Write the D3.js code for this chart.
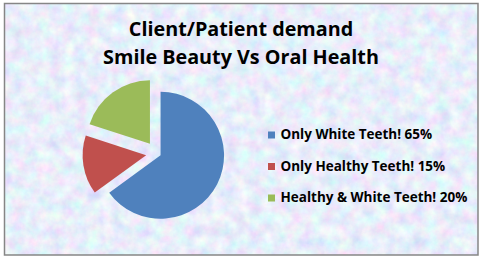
<!DOCTYPE html>
<html>
<head>
<meta charset="utf-8">
<script src="https://cdn.jsdelivr.net/npm/d3@7"></script>
<style>
  body { margin: 0; background: #fff; }
  svg { display: block; }
</style>
</head>
<body>
<div id="viz"></div>
<script>
// chart data
const titleLines = ["Client/Patient demand", "Smile Beauty Vs Oral Health"];
const categories = ["Only White Teeth!", "Only Healthy Teeth!", "Healthy & White Teeth!"];
const values = [65, 15, 20];
const colors = ["#4f81bd", "#c0504d", "#9bbb59"];

const width = 482, height = 258;
const cx = 157, cy = 153.5, radius = 63.5;
const explode = [4, 11, 12]; // px each slice is pulled out
const fontFamily = "'Open Sans', 'Noto Sans', sans-serif";

const svg = d3.select("#viz")
  .append("svg")
    .attr("width", width)
    .attr("height", height);

// tissue paper background
const defs = svg.append("defs");
const f = defs.append("filter")
  .attr("id", "paper")
  .attr("x", 0).attr("y", 0).attr("width", "100%").attr("height", "100%");
f.append("feTurbulence")
  .attr("type", "fractalNoise")
  .attr("baseFrequency", 0.08)
  .attr("numOctaves", 4)
  .attr("seed", 7)
  .attr("result", "noise");
f.append("feColorMatrix")
  .attr("in", "noise")
  .attr("type", "matrix")
  .attr("values",
    "0.5 0 0 0 0.56 " +
    "0 0.45 0 0 0.63 " +
    "0 0 0.15 0 0.88 " +
    "0 0 0 0 1");

svg.append("rect")
  .attr("x", 4).attr("y", 3)
  .attr("width", 474).attr("height", 252)
  .attr("filter", "url(#paper)");

svg.append("rect")
  .attr("x", 4.5).attr("y", 3.5)
  .attr("width", 473.5).attr("height", 251.5)
  .attr("fill", "none")
  .attr("stroke", "#868686")
  .attr("stroke-width", 1.5);

// shrink/grow font so a line gets a given width
function fitFont(sel, base, target) {
  sel.style("font-size", base + "px");
  const w = sel.node().getComputedTextLength();
  sel.style("font-size", (base * target / w) + "px");
}

// title
const title = svg.append("g")
  .selectAll("text")
  .data(titleLines)
  .enter()
  .append("text")
    .attr("x", 241)
    .attr("y", (d, i) => 36 + i * 28)
    .attr("text-anchor", "middle")
    .style("font-family", fontFamily)
    .style("font-weight", "bold")
    .style("fill", "#000")
    .text(d => d);
fitFont(title.filter((d, i) => i === 1), 19, 276);
title.style("font-size", title.filter((d, i) => i === 1).style("font-size"));

// pie
const pie = d3.pie().sort(null).value(d => d)(values);
const arc = d3.arc().innerRadius(0).outerRadius(radius);

svg.append("g")
  .attr("transform", `translate(${cx},${cy})`)
  .selectAll("path")
  .data(pie)
  .enter()
  .append("path")
    .attr("d", arc)
    .attr("fill", (d, i) => colors[i])
    .attr("transform", (d, i) => {
      const a = (d.startAngle + d.endAngle) / 2;
      return `translate(${Math.sin(a) * explode[i]},${-Math.cos(a) * explode[i]})`;
    });

// legend
const legend = svg.append("g")
  .selectAll("g")
  .data(categories)
  .enter()
  .append("g")
    .attr("transform", (d, i) => `translate(268,${139 + i * 31.5})`);

legend.append("rect")
  .attr("x", 0).attr("y", -7.5)
  .attr("width", 7).attr("height", 7)
  .attr("fill", (d, i) => colors[i]);

const legendText = legend.append("text")
  .attr("x", 12.5)
  .attr("y", 0)
  .style("font-family", fontFamily)
  .style("font-weight", "bold")
  .style("fill", "#000")
  .text((d, i) => `${d} ${values[i]}%`);
fitFont(legendText.filter((d, i) => i === 2), 13, 187);
legendText.style("font-size", legendText.filter((d, i) => i === 2).style("font-size"));
</script>
</body>
</html>
